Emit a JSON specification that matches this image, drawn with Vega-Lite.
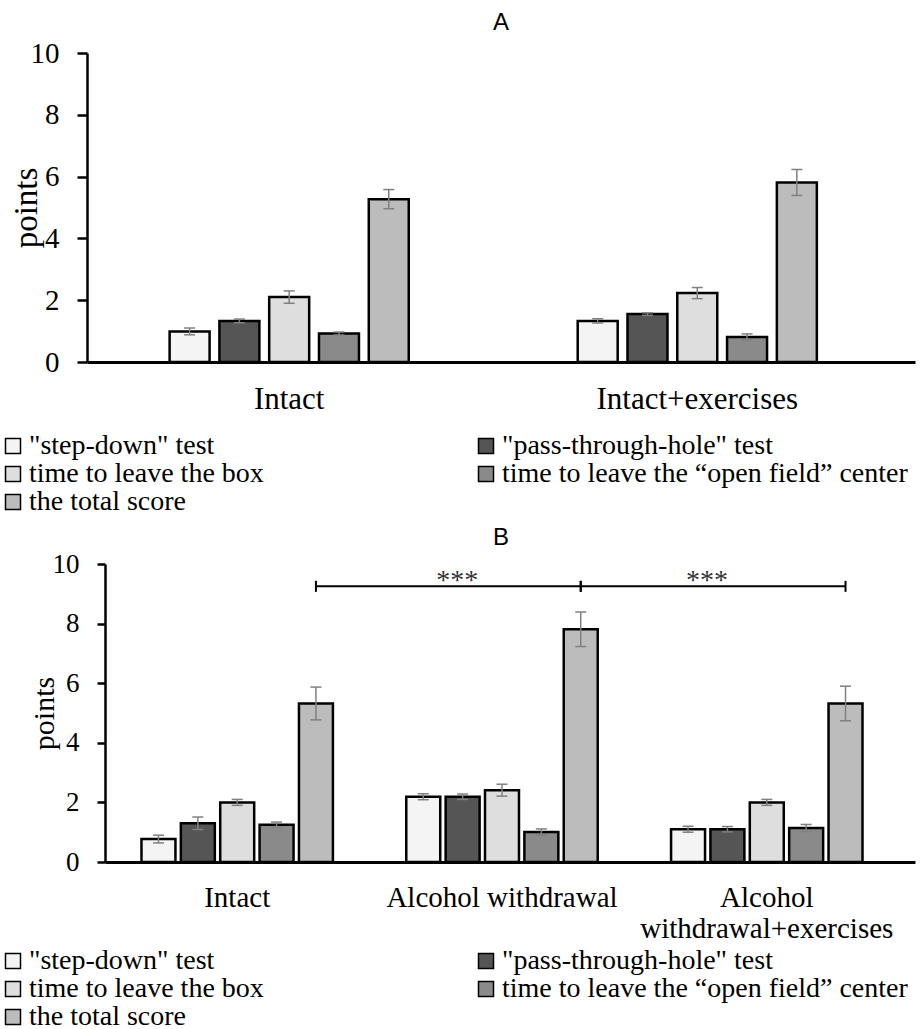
{
  "$schema": "https://vega.github.io/schema/vega-lite/v6.json",
  "background": "white",
  "padding": {"left": -1, "top": 11, "right": 2, "bottom": 0},
  "config": {"view": {"stroke": null}, "font": "Liberation Serif"},
  "datasets": {
    "a": [
      {"group": "Intact", "measure": "\"step-down\" test", "value": 0.99, "lo": 0.88, "hi": 1.10},
      {"group": "Intact", "measure": "\"pass-through-hole\" test", "value": 1.33, "lo": 1.27, "hi": 1.39},
      {"group": "Intact", "measure": "time to leave the box", "value": 2.10, "lo": 1.90, "hi": 2.30},
      {"group": "Intact", "measure": "time to leave the “open field” center", "value": 0.92, "lo": 0.87, "hi": 0.97},
      {"group": "Intact", "measure": "the total score", "value": 5.27, "lo": 4.96, "hi": 5.58},
      {"group": "Intact+exercises", "measure": "\"step-down\" test", "value": 1.33, "lo": 1.26, "hi": 1.40},
      {"group": "Intact+exercises", "measure": "\"pass-through-hole\" test", "value": 1.55, "lo": 1.51, "hi": 1.59},
      {"group": "Intact+exercises", "measure": "time to leave the box", "value": 2.23, "lo": 2.05, "hi": 2.41},
      {"group": "Intact+exercises", "measure": "time to leave the “open field” center", "value": 0.81, "lo": 0.71, "hi": 0.91},
      {"group": "Intact+exercises", "measure": "the total score", "value": 5.81, "lo": 5.39, "hi": 6.23}
    ],
    "b": [
      {"group": "Intact", "measure": "\"step-down\" test", "value": 0.77, "lo": 0.64, "hi": 0.90},
      {"group": "Intact", "measure": "\"pass-through-hole\" test", "value": 1.30, "lo": 1.09, "hi": 1.51},
      {"group": "Intact", "measure": "time to leave the box", "value": 2.00, "lo": 1.90, "hi": 2.10},
      {"group": "Intact", "measure": "time to leave the “open field” center", "value": 1.25, "lo": 1.16, "hi": 1.34},
      {"group": "Intact", "measure": "the total score", "value": 5.32, "lo": 4.77, "hi": 5.87},
      {"group": "Alcohol withdrawal", "measure": "\"step-down\" test", "value": 2.19, "lo": 2.09, "hi": 2.29},
      {"group": "Alcohol withdrawal", "measure": "\"pass-through-hole\" test", "value": 2.19, "lo": 2.10, "hi": 2.28},
      {"group": "Alcohol withdrawal", "measure": "time to leave the box", "value": 2.41, "lo": 2.21, "hi": 2.61},
      {"group": "Alcohol withdrawal", "measure": "time to leave the “open field” center", "value": 1.01, "lo": 0.91, "hi": 1.11},
      {"group": "Alcohol withdrawal", "measure": "the total score", "value": 7.81, "lo": 7.23, "hi": 8.39},
      {"group": "Alcohol withdrawal+exercises", "measure": "\"step-down\" test", "value": 1.10, "lo": 1.00, "hi": 1.20},
      {"group": "Alcohol withdrawal+exercises", "measure": "\"pass-through-hole\" test", "value": 1.10, "lo": 1.01, "hi": 1.19},
      {"group": "Alcohol withdrawal+exercises", "measure": "time to leave the box", "value": 2.00, "lo": 1.90, "hi": 2.10},
      {"group": "Alcohol withdrawal+exercises", "measure": "time to leave the “open field” center", "value": 1.14, "lo": 1.02, "hi": 1.26},
      {"group": "Alcohol withdrawal+exercises", "measure": "the total score", "value": 5.32, "lo": 4.74, "hi": 5.90}
    ],
    "brackets": [
      {"bracket": 1, "group": "Intact", "measure": "the total score", "level": 9.25},
      {"bracket": 1, "group": "Alcohol withdrawal", "measure": "the total score", "level": 9.25},
      {"bracket": 2, "group": "Alcohol withdrawal", "measure": "the total score", "level": 9.25},
      {"bracket": 2, "group": "Alcohol withdrawal+exercises", "measure": "the total score", "level": 9.25}
    ],
    "stars": [
      {"id": 1, "group": "Alcohol withdrawal", "measure": "\"pass-through-hole\" test", "level": 9.25, "label": "***"},
      {"id": 2, "group": "Alcohol withdrawal+exercises", "measure": "\"pass-through-hole\" test", "level": 9.25, "label": "***"}
    ]
  },
  "spacing": 9,
  "resolve": {"scale": {"fill": "independent", "x": "independent", "y": "independent", "xOffset": "independent"}, "legend": {"fill": "independent"}},
  "vconcat": [
    {
      "title": {"text": "A", "font": "Liberation Sans", "fontSize": 24, "fontWeight": "normal", "color": "black", "baseline": "alphabetic", "offset": -15},
      "width": 828,
      "height": 309,
      "layer": [
        {
          "data": {"name": "a"},
          "mark": {"type": "bar", "stroke": "black", "strokeWidth": 2.5},
          "encoding": {
            "x": {"field": "group", "type": "nominal", "sort": null,
              "scale": {"domain": ["Intact", "Intact+exercises"], "paddingInner": 0.414, "paddingOuter": 0.2215, "align": 0.457},
              "axis": {"title": null, "labelAngle": 0, "ticks": false, "domainColor": "black", "domainWidth": 3, "labelFont": "Liberation Serif", "labelFontSize": 31, "labelColor": "black", "labelPadding": 22, "labelLimit": 500}},
            "xOffset": {"field": "measure", "type": "nominal", "sort": null,
              "scale": {"domain": ["\"step-down\" test", "\"pass-through-hole\" test", "time to leave the box", "time to leave the “open field” center", "the total score"], "paddingInner": 0.197, "paddingOuter": 0}},
            "y": {"field": "value", "type": "quantitative", "title": "points",
              "scale": {"domain": [0, 10], "nice": false},
              "axis": {"title": "points", "titleFont": "Liberation Serif", "titleFontSize": 33, "titleFontWeight": "normal", "titleColor": "black", "titleX": -44, "values": [0, 2, 4, 6, 8, 10], "grid": false, "domainColor": "black", "domainWidth": 2.5, "tickColor": "black", "tickWidth": 2.5, "tickSize": 10, "labelFont": "Liberation Serif", "labelFontSize": 29, "labelColor": "black", "labelPadding": 18}},
            "fill": {"field": "measure", "type": "nominal", "sort": null,
              "scale": {"domain": ["\"step-down\" test", "\"pass-through-hole\" test", "time to leave the box", "time to leave the “open field” center", "the total score"], "range": ["#f4f4f4", "#555555", "#dedede", "#8a8a8a", "#bcbcbc"]},
              "legend": {"title": null, "orient": "none", "direction": "horizontal", "legendX": -88, "legendY": 379, "columns": 2, "columnPadding": 208, "rowPadding": -1, "padding": 0, "symbolType": "square", "symbolSize": 225, "symbolStrokeColor": "black", "symbolStrokeWidth": 1.5, "symbolOpacity": 1, "labelFont": "Liberation Serif", "labelFontSize": 28, "labelColor": "black", "labelLimit": 600, "labelOffset": 2}}
          }
        },
        {
          "data": {"name": "a"},
          "mark": {"type": "rule", "color": "#808080", "strokeWidth": 1.5},
          "encoding": {
            "x": {"field": "group", "type": "nominal", "sort": null},
            "xOffset": {"field": "measure", "type": "nominal", "sort": null},
            "y": {"field": "lo", "type": "quantitative", "title": "points"},
            "y2": {"field": "hi"}
          }
        },
        {
          "data": {"name": "a"},
          "mark": {"type": "tick", "color": "#808080", "thickness": 1.5, "size": 11, "opacity": 1},
          "encoding": {
            "x": {"field": "group", "type": "nominal", "sort": null},
            "xOffset": {"field": "measure", "type": "nominal", "sort": null},
            "y": {"field": "hi", "type": "quantitative", "title": "points"}
          }
        },
        {
          "data": {"name": "a"},
          "mark": {"type": "tick", "color": "#808080", "thickness": 1.5, "size": 11, "opacity": 1},
          "encoding": {
            "x": {"field": "group", "type": "nominal", "sort": null},
            "xOffset": {"field": "measure", "type": "nominal", "sort": null},
            "y": {"field": "lo", "type": "quantitative", "title": "points"}
          }
        }
      ]
    },
    {
      "title": {"text": "B", "font": "Liberation Sans", "fontSize": 24, "fontWeight": "normal", "color": "black", "baseline": "alphabetic", "offset": -18.5},
      "width": 828,
      "height": 298,
      "layer": [
        {
          "data": {"name": "b"},
          "mark": {"type": "bar", "stroke": "black", "strokeWidth": 2.5},
          "encoding": {
            "x": {"field": "group", "type": "nominal", "sort": null,
              "scale": {"domain": ["Intact", "Alcohol withdrawal", "Alcohol withdrawal+exercises"], "range": [18, 828], "paddingInner": 0.277, "paddingOuter": 0.168, "align": 0.41},
              "axis": {"title": null, "labelAngle": 0, "ticks": false, "domainColor": "black", "domainWidth": 3, "labelFont": "Liberation Serif", "labelFontSize": 29, "labelColor": "black", "labelPadding": 21, "labelLineHeight": 31.5, "labelLimit": 500,
                "labelExpr": "datum.label == 'Alcohol withdrawal+exercises' ? ['Alcohol', 'withdrawal+exercises'] : datum.label"}},
            "xOffset": {"field": "measure", "type": "nominal", "sort": null,
              "scale": {"domain": ["\"step-down\" test", "\"pass-through-hole\" test", "time to leave the box", "time to leave the “open field” center", "the total score"], "paddingInner": 0.137, "paddingOuter": 0}},
            "y": {"field": "value", "type": "quantitative", "title": "points",
              "scale": {"domain": [0, 10], "nice": false},
              "axis": {"offset": -18, "title": "points", "titleFont": "Liberation Serif", "titleFontSize": 30, "titleFontWeight": "normal", "titleColor": "black", "titleX": -46, "values": [0, 2, 4, 6, 8, 10], "grid": false, "domainColor": "black", "domainWidth": 2.5, "tickColor": "black", "tickWidth": 2.5, "tickSize": 8, "labelFont": "Liberation Serif", "labelFontSize": 27, "labelColor": "black", "labelPadding": 18}},
            "fill": {"field": "measure", "type": "nominal", "sort": null,
              "scale": {"domain": ["\"step-down\" test", "\"pass-through-hole\" test", "time to leave the box", "time to leave the “open field” center", "the total score"], "range": ["#f4f4f4", "#555555", "#dedede", "#8a8a8a", "#bcbcbc"]},
              "legend": {"title": null, "orient": "none", "direction": "horizontal", "legendX": -88, "legendY": 383, "columns": 2, "columnPadding": 208, "rowPadding": -3, "padding": 0, "symbolType": "square", "symbolSize": 225, "symbolStrokeColor": "black", "symbolStrokeWidth": 1.5, "symbolOpacity": 1, "labelFont": "Liberation Serif", "labelFontSize": 28, "labelColor": "black", "labelLimit": 600, "labelOffset": 2}}
          }
        },
        {
          "data": {"name": "b"},
          "mark": {"type": "rule", "color": "#808080", "strokeWidth": 1.5},
          "encoding": {
            "x": {"field": "group", "type": "nominal", "sort": null},
            "xOffset": {"field": "measure", "type": "nominal", "sort": null},
            "y": {"field": "lo", "type": "quantitative", "title": "points"},
            "y2": {"field": "hi"}
          }
        },
        {
          "data": {"name": "b"},
          "mark": {"type": "tick", "color": "#808080", "thickness": 1.5, "size": 11, "opacity": 1},
          "encoding": {
            "x": {"field": "group", "type": "nominal", "sort": null},
            "xOffset": {"field": "measure", "type": "nominal", "sort": null},
            "y": {"field": "hi", "type": "quantitative", "title": "points"}
          }
        },
        {
          "data": {"name": "b"},
          "mark": {"type": "tick", "color": "#808080", "thickness": 1.5, "size": 11, "opacity": 1},
          "encoding": {
            "x": {"field": "group", "type": "nominal", "sort": null},
            "xOffset": {"field": "measure", "type": "nominal", "sort": null},
            "y": {"field": "lo", "type": "quantitative", "title": "points"}
          }
        },
        {
          "data": {"name": "brackets"},
          "mark": {"type": "line", "color": "black", "strokeWidth": 2},
          "encoding": {
            "x": {"field": "group", "type": "nominal", "sort": null},
            "xOffset": {"field": "measure", "type": "nominal", "sort": null},
            "y": {"field": "level", "type": "quantitative", "title": "points"},
            "detail": {"field": "bracket", "type": "nominal"}
          }
        },
        {
          "data": {"name": "brackets"},
          "mark": {"type": "tick", "color": "black", "thickness": 2, "size": 11, "opacity": 1, "orient": "vertical"},
          "encoding": {
            "x": {"field": "group", "type": "nominal", "sort": null},
            "xOffset": {"field": "measure", "type": "nominal", "sort": null},
            "y": {"field": "level", "type": "quantitative", "title": "points"}
          }
        },
        {
          "data": {"name": "stars"},
          "transform": [{"filter": "datum.id == 1"}],
          "mark": {"type": "text", "font": "Liberation Serif", "fontSize": 28, "color": "#333333", "baseline": "alphabetic", "dy": 3, "dx": -5.5},
          "encoding": {
            "x": {"field": "group", "type": "nominal", "sort": null},
            "xOffset": {"field": "measure", "type": "nominal", "sort": null},
            "y": {"field": "level", "type": "quantitative", "title": "points"},
            "text": {"field": "label"}
          }
        },
        {
          "data": {"name": "stars"},
          "transform": [{"filter": "datum.id == 2"}],
          "mark": {"type": "text", "font": "Liberation Serif", "fontSize": 28, "color": "#333333", "baseline": "alphabetic", "dy": 3, "dx": -20.5},
          "encoding": {
            "x": {"field": "group", "type": "nominal", "sort": null},
            "xOffset": {"field": "measure", "type": "nominal", "sort": null},
            "y": {"field": "level", "type": "quantitative", "title": "points"},
            "text": {"field": "label"}
          }
        }
      ]
    }
  ]
}
